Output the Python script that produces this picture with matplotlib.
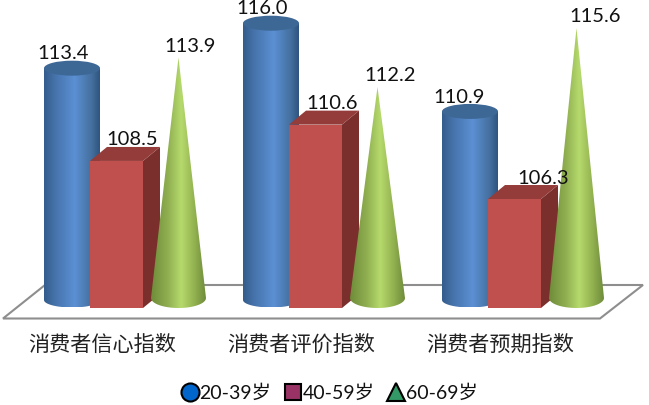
import numpy as np
import matplotlib.pyplot as plt
from matplotlib.colors import LinearSegmentedColormap
from matplotlib.lines import Line2D
from matplotlib.patches import Polygon, Ellipse, PathPatch
from matplotlib.path import Path

plt.rcParams['font.family'] = ['Lato', 'Noto Sans CJK SC', 'DejaVu Sans']

categories = ['消费者信心指数', '消费者评价指数', '消费者预期指数']
series_names = ['20-39岁', '40-59岁', '60-69岁']
young = [113.4, 116.0, 110.9]
middle = [108.5, 110.6, 106.3]
old = [113.9, 112.2, 115.6]

W, H = 649, 405
XU = 1 / 199.0   # one pixel in category units
YU = 1 / 17.3    # one pixel in index units
BASE = 100

blue_map = LinearSegmentedColormap.from_list('b', [(0, '#345c8c'), (0.2, '#4673ab'), (0.55, '#5b90d4'), (0.85, '#45709f'), (1, '#2f5480')])
green_map = LinearSegmentedColormap.from_list('g', [(0, '#6f8c3a'), (0.3, '#8fae50'), (0.55, '#b6da6c'), (0.8, '#91b04f'), (1, '#6f8c3a')])
grad = np.linspace(0, 1, 256).reshape(1, -1)

fig = plt.figure(figsize=(W / 100, H / 100), dpi=100)
ax = fig.add_axes([0, 0, 1, 1])
ax.axis('off')


def fill_gradient(path, cmap, x0, x1, y0, y1, z):
    patch = PathPatch(path, fc='none', ec='none', transform=ax.transData)
    ax.add_patch(patch)
    im = ax.imshow(grad, cmap=cmap, extent=(x0, x1, y0, y1), aspect='auto', zorder=z)
    im.set_clip_path(patch)


def cylinder(x, val, z):
    hw = 28 * XU
    eh = 7.5 * YU
    t = np.linspace(np.pi, 2 * np.pi, 40)
    bot = BASE
    pts = [(x - hw, val)] + list(zip(x + hw * np.cos(t), bot + eh * np.sin(t))) + [(x + hw, val), (x - hw, val)]
    fill_gradient(Path(pts), blue_map, x - hw, x + hw, bot - eh, val, z)
    ax.add_patch(Ellipse((x, val), 2 * hw, 2 * eh, angle=0, fc='#3d6896', ec='none', zorder=z + 0.1))


def box(x, val, z):
    hw = 26.5 * XU
    dx = 17 * XU
    dy = 14 * YU
    bot = BASE - 8 * YU
    top = val - 8 * YU
    ax.add_patch(Polygon([(x + hw, bot), (x + hw + dx, bot + dy), (x + hw + dx, top + dy), (x + hw, top)], fc='#7a2f2d', ec='none', zorder=z))
    ax.add_patch(Polygon([(x - hw, top), (x + hw, top), (x + hw + dx, top + dy), (x - hw + dx, top + dy)], fc='#943c3a', ec='none', zorder=z))
    ax.bar(x, top - bot, 2 * hw, bottom=bot, color='#c0504d', zorder=z + 0.1)


def cone(x, val, z):
    hw = 27.5 * XU
    eh = 10 * YU
    bot = BASE + 2 * YU
    tip = val + 2 * YU
    t = np.linspace(np.pi, 2 * np.pi, 40)
    pts = [(x, tip)] + list(zip(x + hw * np.cos(t), bot + eh * np.sin(t))) + [(x, tip)]
    fill_gradient(Path(pts), green_map, x - hw, x + hw, bot - eh, tip, z)


# floor, given in figure pixels
floor = np.array([(3, 318.5), (600, 318.5), (643, 285), (45, 285)], dtype=float)
floor[:, 0] /= W
floor[:, 1] = 1 - floor[:, 1] / H
ax.add_patch(Polygon(floor, closed=True, fc='white', ec='#8e8e8e', lw=1.5, transform=ax.transAxes, zorder=1))

# label offsets in pixels from each value's height
blue_off = [(-9, 15), (-9, 15), (-11, 14)]
red_off = [(16, 13), (17, 13), (29, 13)]
green_off = [(12, 13), (13, 13), (19, 14)]

for i in range(3):
    z = 2 + i
    cylinder(i - 53 * XU, young[i], z)
    box(i - 8.5 * XU, middle[i], z + 0.3)
    cone(i + 53.5 * XU, old[i], z + 0.6)
    ax.annotate(f'{young[i]:.1f}', (i - 53 * XU, young[i]), xytext=blue_off[i], textcoords='offset pixels',
                ha='center', va='center', fontsize=14.5, color='#111111', zorder=10)
    ax.annotate(f'{middle[i]:.1f}', (i - 8.5 * XU, middle[i]), xytext=red_off[i], textcoords='offset pixels',
                ha='center', va='center', fontsize=14.5, color='#111111', zorder=10)
    ax.annotate(f'{old[i]:.1f}', (i + 53.5 * XU, old[i]), xytext=green_off[i], textcoords='offset pixels',
                ha='center', va='center', fontsize=14.5, color='#111111', zorder=10)
    ax.text(i - 23 * XU, BASE - 45 * YU, categories[i], ha='center', va='center', fontsize=15.2, color='#222222', zorder=10)

handles = [
    Line2D([], [], ls='none', marker='o', ms=13, mfc='#0066cc', mec='black', mew=1.5),
    Line2D([], [], ls='none', marker='s', ms=12, mfc='#993366', mec='black', mew=1.5),
    Line2D([], [], ls='none', marker='^', ms=13, mfc='#339966', mec='black', mew=1.5),
]
ax.legend(handles, series_names, ncol=3, frameon=False, loc='center', bbox_to_anchor=(330 / W, 1 - 393 / H),
          fontsize=14, handlelength=0.8, handletextpad=0.1, columnspacing=0.7, borderpad=0, labelcolor='#111111')

ax.set_xlim(-125 * XU, (W - 125) * XU)
ax.set_ylim(BASE - (H - 300) * YU, BASE + 300 * YU)

fig.savefig('out.png', dpi=100)
